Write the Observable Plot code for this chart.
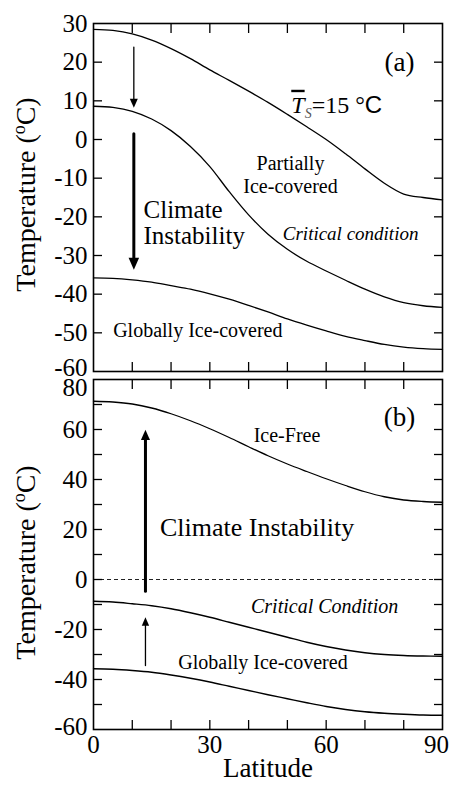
<!DOCTYPE html>
<html>
<head>
<meta charset="utf-8">
<script src="https://cdn.jsdelivr.net/npm/d3@7"></script>
<script src="https://cdn.jsdelivr.net/npm/@observablehq/plot@0.6"></script>
<style>
  html, body { margin: 0; padding: 0; background: #fff; }
  #chart { width: 451px; }
  #chart svg { display: block; }
</style>
</head>
<body>
<div id="chart"></div>
<script>
// ---------- data ----------
const latitudes = [0, 5, 10, 15, 20, 25, 30, 35, 40, 45, 50, 55, 60, 65, 70, 75, 80, 85, 90];

// Panel (a)
const aMean15 =      [28.5, 28.2, 27.3, 25.7, 23.5, 20.9, 18.0, 15.3, 12.5, 9.6, 6.5, 3.3, 0.0, -3.7, -7.6, -11.3, -14.1, -15.0, -15.6];
const aCritical =    [8.6, 8.3, 7.3, 5.3, 2.3, -1.8, -7.0, -13.5, -19.5, -24.5, -28.4, -31.5, -34.0, -36.4, -38.7, -40.7, -42.2, -43.0, -43.4];
const aIceCovered =  [-35.8, -35.9, -36.3, -36.9, -37.8, -38.7, -39.9, -41.3, -42.9, -44.6, -46.4, -48.0, -49.5, -50.9, -52.0, -53.0, -53.7, -54.1, -54.3];

// Panel (b)
const bIceFree =     [71.3, 71.0, 70.2, 68.6, 66.3, 63.5, 60.3, 56.8, 53.1, 49.5, 46.2, 43.2, 40.3, 37.6, 35.1, 33.1, 31.8, 31.2, 30.9];
const bCritical =    [-8.7, -9.0, -9.7, -10.5, -11.7, -13.3, -15.1, -17.1, -19.1, -21.1, -23.1, -25.1, -26.8, -28.2, -29.3, -30.0, -30.4, -30.6, -30.7];
const bIceCovered =  [-35.7, -35.9, -36.4, -37.1, -38.2, -39.5, -41.0, -42.7, -44.4, -46.1, -47.7, -49.3, -50.8, -52.0, -52.9, -53.5, -53.9, -54.2, -54.3];

// ticks
const xTickMarks = [10, 20, 30, 40, 50, 60, 70, 80];
const xTickLabels = [0, 30, 60];
const xTickLabelLast = [90];
const yTickLabelsA = [-50, -40, -30, -20, -10, 0, 10, 20, 30];
const yTickLabelBottomA = [-60];
const yTickMarksA = [-50, -40, -30, -20, -10, 0, 10, 20];
const yTickLabelsB = [-40, -20, 0, 20, 40, 60];
const yTickLabelBottomB = [-60];
const yTickLabelTopB = [80];
const yTickMarksB = [-50, -40, -30, -20, -10, 0, 10, 20, 30, 40, 50, 60, 70];

// ---------- helpers ----------
const serif = "'Liberation Serif', 'Times New Roman', Times, serif";
const series = (arr) => latitudes.map((lat, i) => ({lat, T: arr[i]}));

// slender filled arrow head, tip at the symbol origin, pointing up
const arrowHead = {
  draw(ctx, size) {
    const r = Math.sqrt(size / Math.PI);
    const h = 2.4 * r, w = 1.05 * r;
    ctx.moveTo(0, 0);
    ctx.lineTo(-w, h);
    ctx.lineTo(w, h);
    ctx.closePath();
  }
};

function frameMarks(yMarks) {
  return [
    Plot.axisX(xTickMarks, {anchor: "top", tickSize: -9, tickFormat: () => "", label: null, strokeWidth: 1.3}),
    Plot.axisX(xTickMarks, {anchor: "bottom", tickSize: -9, tickFormat: () => "", label: null, strokeWidth: 1.3}),
    Plot.axisY(yMarks, {anchor: "left", tickSize: -9, tickFormat: () => "", label: null, strokeWidth: 1.3}),
    Plot.axisY(yMarks, {anchor: "right", tickSize: -9, tickFormat: () => "", label: null, strokeWidth: 1.3}),
    Plot.frame({stroke: "black", strokeWidth: 1.6})
  ];
}

function yLabels(values, dy = 0) {
  return Plot.axisY(values, {anchor: "left", tickSize: 0, tickPadding: 6, tickFormat: (d) => String(d), label: null, dy});
}

function curve(arr) {
  return Plot.line(series(arr), {x: "lat", y: "T", curve: "catmull-rom", stroke: "black", strokeWidth: 1.3});
}

function arrow(x, y1, y2, width, r) {
  const down = y2 < y1;
  return [
    Plot.arrow([{x, y1, y2}], {x: "x", y1: "y1", y2: "y2", headLength: 0, insetEnd: 2.2 * r, stroke: "black", strokeWidth: width}),
    Plot.dot([{x, y: y2}], {x: "x", y: "y", symbol: arrowHead, r, rotate: down ? 180 : 0, fill: "black", stroke: "none"})
  ];
}

const baseStyle = {fontFamily: serif, fontSize: "25px", background: "white", color: "black", overflow: "visible"};

// ---------- panel (a) ----------
const plotA = Plot.plot({
  width: 451, height: 375,
  marginTop: 23, marginBottom: 4, marginLeft: 93, marginRight: 9,
  style: baseStyle,
  x: {domain: [0, 90]},
  y: {domain: [-60, 30]},
  marks: [
    ...frameMarks(yTickMarksA),
    yLabels(yTickLabelsA),
    yLabels(yTickLabelBottomA, -4),
    curve(aMean15),
    curve(aCritical),
    curve(aIceCovered),
    ...arrow(10.4, 23.9, 8.2, 1.3, 3.8),
    ...arrow(10.4, 1.5, -33.7, 3, 5),
    Plot.text(["(a)"], {x: 78.9, y: 19.9, fontSize: 27}),
    Plot.text(["TS=15 °C"], {x: 51, y: 8.9, textAnchor: "start", fontSize: 24}),
    Plot.text(["Partially\nIce-covered"], {x: 50.8, y: -8.9, fontSize: 20, lineHeight: 1.15}),
    Plot.text(["Climate"], {x: 12.9, y: -18.3, textAnchor: "start", fontSize: 25}),
    Plot.text(["Instability"], {x: 12.9, y: -24.9, textAnchor: "start", fontSize: 25}),
    Plot.text(["Critical condition"], {x: 66.3, y: -24.3, fontSize: 19, fontStyle: "italic"}),
    Plot.text(["Globally Ice-covered"], {x: 26.9, y: -49.5, fontSize: 20}),
    Plot.text(["Temperature (oC)"], {frameAnchor: "left", textAnchor: "middle", rotate: -90, dx: -67, dy: -3, fontSize: 28})
  ]
});

// ---------- panel (b) ----------
const plotB = Plot.plot({
  width: 451, height: 415,
  marginTop: 4, marginBottom: 61, marginLeft: 93, marginRight: 9,
  style: baseStyle,
  x: {domain: [0, 90]},
  y: {domain: [-60, 80]},
  marks: [
    Plot.ruleY([0], {stroke: "#222", strokeWidth: 1, strokeDasharray: "4,3"}),
    ...frameMarks(yTickMarksB),
    yLabels(yTickLabelsB),
    yLabels(yTickLabelBottomB, -3),
    yLabels(yTickLabelTopB, 8),
    Plot.text(xTickLabels, {x: (d) => d, text: (d) => String(d), frameAnchor: "bottom", lineAnchor: "top", dy: 6, fontSize: 25}),
    Plot.text(xTickLabelLast, {x: (d) => d, text: (d) => String(d), frameAnchor: "bottom", lineAnchor: "top", dy: 6, dx: -6, fontSize: 25}),
    curve(bIceFree),
    curve(bCritical),
    curve(bIceCovered),
    ...arrow(13.4, -4.7, 59.9, 3, 4.3),
    ...arrow(13.4, -34.4, -15.1, 1.3, 3.5),
    Plot.text(["(b)"], {x: 78.9, y: 64.8, fontSize: 27}),
    Plot.text(["Ice-Free"], {x: 49.9, y: 57.6, fontSize: 20}),
    Plot.text(["Climate Instability"], {x: 42.2, y: 20.7, fontSize: 26}),
    Plot.text(["Critical Condition"], {x: 59.6, y: -11, fontSize: 20, fontStyle: "italic"}),
    Plot.text(["Globally Ice-covered"], {x: 43.7, y: -33.4, fontSize: 20}),
    Plot.text(["Temperature (oC)"], {frameAnchor: "left", textAnchor: "middle", rotate: -90, dx: -67, dy: 8, fontSize: 28}),
    Plot.text(["Latitude"], {frameAnchor: "bottom", textAnchor: "middle", dy: 47, fontSize: 27})
  ]
});

// ---------- rich text (superscripts / subscripts) ----------
const NS = "http://www.w3.org/2000/svg";
function richText(svg, key, parts) {
  for (const t of svg.querySelectorAll("text")) {
    if (t.textContent === key) {
      while (t.firstChild) t.removeChild(t.firstChild);
      for (const p of parts) {
        const ts = document.createElementNS(NS, "tspan");
        ts.textContent = p.text;
        for (const [k, v] of Object.entries(p.attrs || {})) ts.setAttribute(k, v);
        t.appendChild(ts);
      }
    }
  }
}
for (const svg of [plotA, plotB]) {
  richText(svg, "Temperature (oC)", [
    {text: "Temperature ("},
    {text: "o", attrs: {"font-size": "18", dy: "-10"}},
    {text: "C)", attrs: {dy: "10"}}
  ]);
}
richText(plotA, "TS=15 °C", [
  {text: "T", attrs: {"font-style": "italic", style: "text-decoration: overline"}},
  {text: "S", attrs: {"font-style": "italic", "font-size": "14", dy: "5", fill: "#555"}},
  {text: "=15 ", attrs: {dy: "-5"}},
  {text: "°"},
  {text: "C", attrs: {"font-family": "'Liberation Sans', Arial, sans-serif"}}
]);

const chart = document.getElementById("chart");
chart.appendChild(plotA);
chart.appendChild(plotB);
</script>
</body>
</html>
